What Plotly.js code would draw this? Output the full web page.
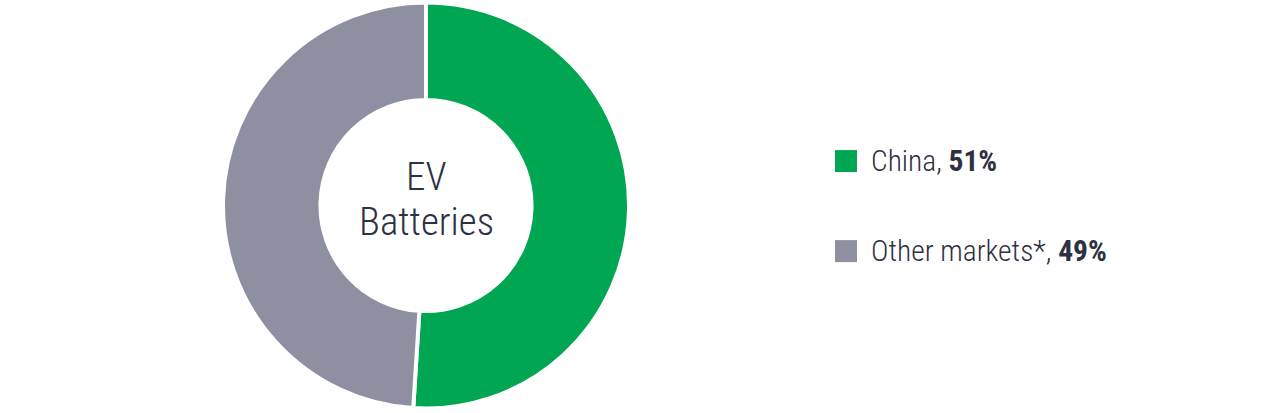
<!DOCTYPE html>
<html>
<head>
<meta charset="utf-8">
<script src="https://cdn.plot.ly/plotly-3.0.1.min.js"></script>
<style>
  html, body { margin: 0; padding: 0; background: #fff; }
  #chart { width: 1280px; height: 413px; }
</style>
</head>
<body>
<div id="chart"></div>
<script>
  const labels = ['China', 'Other markets*'];
  const shares = [51, 49];
  const sliceColors = ['#00A651', '#8E8FA0'];
  const centerLines = ['EV', 'Batteries'];

  const fontFamily = '"Roboto Condensed", "Liberation Sans Narrow", "DejaVu Sans Condensed", sans-serif';
  const textColor = '#2E3142';

  const pie = {
    type: 'pie',
    labels: labels,
    values: shares,
    sort: false,
    direction: 'clockwise',
    rotation: 0,
    hole: 0.52,
    textinfo: 'none',
    hoverinfo: 'label+percent',
    marker: { colors: sliceColors, line: { color: '#ffffff', width: 4 } },
    domain: { x: [222.7 / 1280, 629.3 / 1280], y: [4.5 / 413, 410.5 / 413] },
    showlegend: false
  };

  // legend rows drawn as squares + text to match spacing of the original
  const rowY = [0.61, 0.392];
  const shapes = labels.map((label, i) => ({
    type: 'rect', xref: 'paper', yref: 'paper',
    x0: 835 / 1280, x1: 857 / 1280,
    y0: rowY[i] - 11 / 413, y1: rowY[i] + 11 / 413,
    fillcolor: sliceColors[i], line: { width: 0 }
  }));

  const annotations = labels.map((label, i) => ({
    xref: 'paper', yref: 'paper',
    x: 869 / 1280, y: rowY[i],
    xanchor: 'left', yanchor: 'middle',
    text: `${label}, <b>${shares[i]}%</b>`,
    showarrow: false,
    font: { family: fontFamily, size: 29.5, weight: 300, color: textColor }
  }));

  // center label, one annotation per line to keep the tighter line spacing
  const centerY = [0.5714, 0.4625];
  centerLines.forEach((line, i) => {
    annotations.push({
      xref: 'paper', yref: 'paper',
      x: 426 / 1280, y: centerY[i],
      xanchor: 'center', yanchor: 'middle',
      text: line,
      showarrow: false,
      font: { family: fontFamily, size: 39, weight: 300, color: textColor }
    });
  });

  Plotly.newPlot('chart', [pie], {
    width: 1280,
    height: 413,
    margin: { l: 0, r: 0, t: 0, b: 0 },
    paper_bgcolor: '#ffffff',
    plot_bgcolor: '#ffffff',
    shapes: shapes,
    annotations: annotations
  }, { displayModeBar: false, responsive: false });
</script>
</body>
</html>
